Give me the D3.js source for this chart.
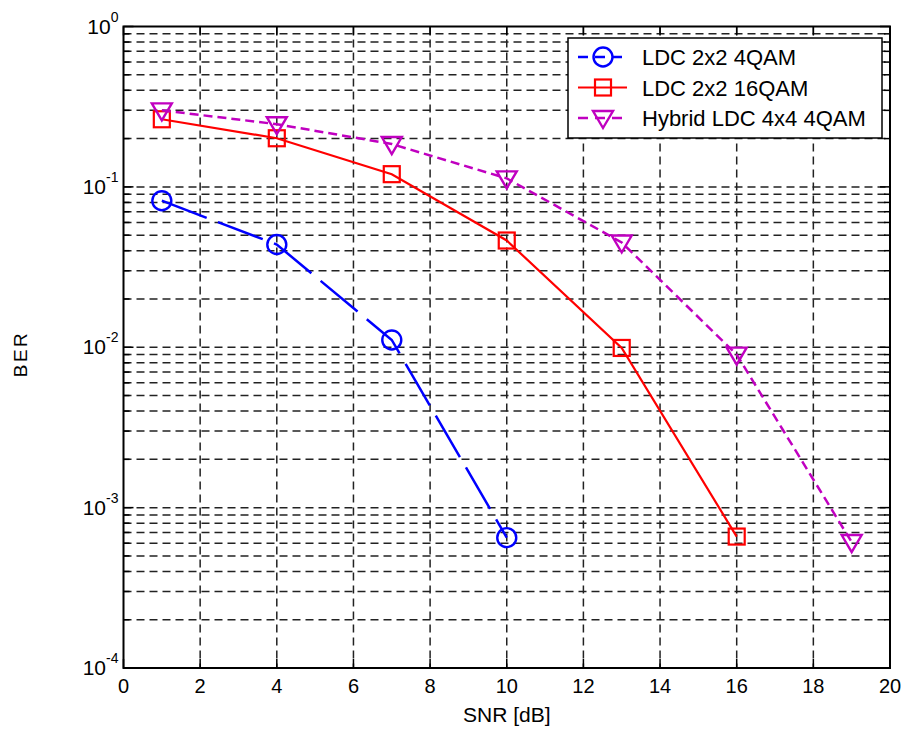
<!DOCTYPE html>
<html>
<head>
<meta charset="utf-8">
<script src="https://cdn.jsdelivr.net/npm/d3@7"></script>
<style>
  body { margin: 0; background: #fff; }
  svg { font-family: "Liberation Sans", Arial, sans-serif; }
</style>
</head>
<body>
<svg id="chart" width="904" height="730"></svg>
<script>
const snrLdc4 = [1, 4, 7, 10];
const berLdc4 = [0.082, 0.0437, 0.0111, 0.00065];
const snrLdc16 = [1, 4, 7, 10, 13, 16];
const berLdc16 = [0.264, 0.201, 0.12, 0.0463, 0.0099, 0.00066];
const snrHybrid = [1, 4, 7, 10, 13, 16, 19];
const berHybrid = [0.30, 0.246, 0.185, 0.113, 0.045, 0.009, 0.00061];
const xTicks = [0, 2, 4, 6, 8, 10, 12, 14, 16, 18, 20];
const yExps = [0, -1, -2, -3, -4];
const seriesNames = ["LDC 2x2 4QAM", "LDC 2x2 16QAM", "Hybrid LDC 4x4 4QAM"];

const svg = d3.select("#chart");
const pLeft = 123.5, pRight = 890, pTop = 26.5, pBottom = 668;

const x = d3.scaleLinear().domain([0, 20]).range([pLeft, pRight]);
const y = d3.scaleLog().domain([1e-4, 1]).range([pBottom, pTop]);

// grid values: every k*10^e
const yGrid = [];
for (let e = -4; e < 0; e++) for (let k = 1; k <= 9; k++) yGrid.push(k * Math.pow(10, e));

const grid = svg.append("g").attr("stroke", "#222").attr("stroke-width", 1.5)
  .attr("stroke-dasharray", "8,5");
grid.selectAll(".gy").data(yGrid.filter(v => v > 1e-4)).join("line")
  .attr("x1", pLeft).attr("x2", pRight)
  .attr("y1", d => y(d)).attr("y2", d => y(d));
grid.selectAll(".gx").data(xTicks.slice(1, -1)).join("line")
  .attr("x1", d => x(d)).attr("x2", d => x(d))
  .attr("y1", pTop).attr("y2", pBottom);

// ticks inside on all sides
const ticks = svg.append("g").attr("stroke", "#000").attr("stroke-width", 1.5);
yGrid.concat([1]).forEach(v => {
  const len = Math.abs(Math.log10(v) - Math.round(Math.log10(v))) < 1e-9 ? 10 : 6;
  ticks.append("line").attr("x1", pLeft).attr("x2", pLeft + len).attr("y1", y(v)).attr("y2", y(v));
  ticks.append("line").attr("x1", pRight).attr("x2", pRight - len).attr("y1", y(v)).attr("y2", y(v));
});
xTicks.forEach(v => {
  ticks.append("line").attr("x1", x(v)).attr("x2", x(v)).attr("y1", pBottom).attr("y2", pBottom - 9);
  ticks.append("line").attr("x1", x(v)).attr("x2", x(v)).attr("y1", pTop).attr("y2", pTop + 9);
});

// frame
svg.append("rect").attr("x", pLeft).attr("y", pTop)
  .attr("width", pRight - pLeft).attr("height", pBottom - pTop)
  .attr("fill", "none").attr("stroke", "#000").attr("stroke-width", 2);

// x tick labels
svg.append("g").selectAll("text").data(xTicks).join("text")
  .attr("x", d => x(d)).attr("y", pBottom + 25)
  .attr("text-anchor", "middle").attr("font-size", 20)
  .text(d => d);

// y tick labels 10^e
const yl = svg.append("g").selectAll("text").data(yExps).join("text")
  .attr("x", pLeft - 5).attr("y", d => y(Math.pow(10, d)) + 7)
  .attr("text-anchor", "end").attr("font-size", 21);
yl.append("tspan").text("10");
yl.append("tspan").attr("dy", -12).attr("font-size", 14).text(d => d);

// axis titles
svg.append("text").attr("x", x(10)).attr("y", 722)
  .attr("text-anchor", "middle").attr("font-size", 21).text("SNR [dB]");
svg.append("text").attr("transform", `translate(27,${354}) rotate(-90)`)
  .attr("text-anchor", "middle").attr("font-size", 19)
  .attr("letter-spacing", 2.5).text("BER");

const line = d3.line().x(d => x(d[0])).y(d => y(d[1]));

const series = [
  { name: seriesNames[0], data: d3.zip(snrLdc4, berLdc4), color: "#0000ff", dash: "48,12", width: 2.5, marker: "circle" },
  { name: seriesNames[1], data: d3.zip(snrLdc16, berLdc16), color: "#ff0000", dash: null, width: 2.2, marker: "square" },
  { name: seriesNames[2], data: d3.zip(snrHybrid, berHybrid), color: "#c000c0", dash: "9,5", width: 2.5, marker: "triangle" }
];

function drawMarker(g, type, cx, cy, color) {
  if (type === "circle") {
    g.append("circle").attr("cx", cx).attr("cy", cy).attr("r", 9.5)
      .attr("fill", "none").attr("stroke", color).attr("stroke-width", 2.4);
  } else if (type === "square") {
    g.append("rect").attr("x", cx - 8).attr("y", cy - 8).attr("width", 16).attr("height", 16)
      .attr("fill", "none").attr("stroke", color).attr("stroke-width", 2.2);
  } else {
    g.append("path").attr("d", `M${cx - 10},${cy - 7}L${cx + 10},${cy - 7}L${cx},${cy + 10}Z`)
      .attr("fill", "none").attr("stroke", color).attr("stroke-width", 2.4);
  }
}

series.forEach(s => {
  const g = svg.append("g");
  g.append("path").datum(s.data).attr("d", line)
    .attr("fill", "none").attr("stroke", s.color).attr("stroke-width", s.width)
    .attr("stroke-dasharray", s.dash);
  s.data.forEach(d => drawMarker(g, s.marker, x(d[0]), y(d[1]), s.color));
});

// legend
const lg = svg.append("g");
lg.append("rect").attr("x", 568).attr("y", 38).attr("width", 314).attr("height", 100)
  .attr("fill", "#fff").attr("stroke", "#000").attr("stroke-width", 1.5);
series.forEach((s, i) => {
  const ly = 57 + i * 30.5;
  lg.append("line").attr("x1", 578).attr("x2", 627).attr("y1", ly).attr("y2", ly)
    .attr("stroke", s.color).attr("stroke-width", s.width)
    .attr("stroke-dasharray", s.dash ? "10,7" : null);
  drawMarker(lg, s.marker, 603, ly, s.color);
  lg.append("text").attr("x", 642).attr("y", ly + 8).attr("font-size", 22).text(s.name);
});
</script>
</body>
</html>
